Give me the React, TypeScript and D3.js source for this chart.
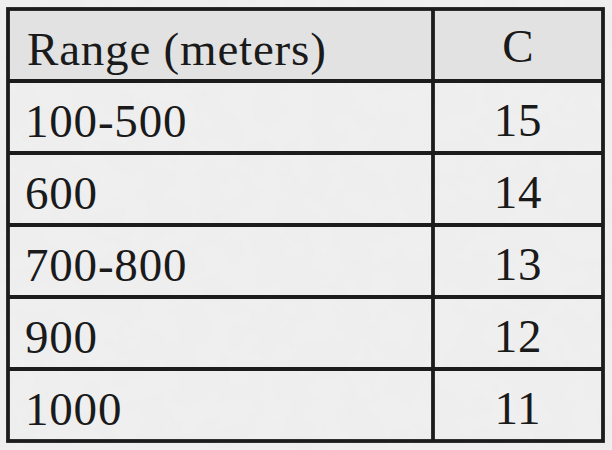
import React from "react";
import * as d3 from "d3";

const headers: string[] = ["Range (meters)", "C"];
const ranges: string[] = ["100-500", "600", "700-800", "900", "1000"];
const cValues: number[] = [15, 14, 13, 12, 11];

const W = 612;
const H = 450;
const left = 8;
const right = 603;
const top = 9;
const bottom = 441;
const colSplit = 433;

export default function App() {
  const rowKeys = ["header", ...ranges];
  const y = d3.scaleBand<string>().domain(rowKeys).range([top, bottom]).paddingInner(0).paddingOuter(0);
  const x = d3.scaleOrdinal<string, number>().domain(["range", "c"]).range([left, colSplit]);
  const colEnd = d3.scaleOrdinal<string, number>().domain(["range", "c"]).range([colSplit, right]);
  const bw = y.bandwidth();
  const font = "'Liberation Serif', serif";
  const fs = 47;
  const ls = 0.8;
  const stroke = "#1c1c1c";
  const sw = 3.8;

  return (
    <div style={{ position: "fixed", left: 0, top: 0, width: W, height: H, background: "#efefef" }}>
      <svg width={W} height={H} viewBox={`0 0 ${W} ${H}`}>
        <defs>
          <filter id="paper" x="0" y="0" width="100%" height="100%">
            <feTurbulence type="fractalNoise" baseFrequency="0.035" numOctaves="3" seed="4" result="n" />
            <feColorMatrix type="matrix" values="0 0 0 0 0.5  0 0 0 0 0.5  0 0 0 0 0.5  0 0 0 0.06 0" />
          </filter>
        </defs>
        <rect x={0} y={0} width={W} height={H} fill="#f0f0f0" />
        <rect x={0} y={0} width={W} height={H} filter="url(#paper)" />
        <rect x={left} y={y("header")!} width={right - left} height={bw} fill="#e2e2e2" />
        {rowKeys.slice(1).map((k) => (
          <line key={k} x1={left} x2={right} y1={y(k)!} y2={y(k)!} stroke={stroke} strokeWidth={sw} />
        ))}
        <line x1={colSplit} x2={colSplit} y1={top} y2={bottom} stroke={stroke} strokeWidth={sw} />
        <rect x={left} y={top} width={right - left} height={bottom - top} fill="none" stroke={stroke} strokeWidth={sw} />
        <text x={x("range") + 19} y={y("header")! + bw / 2 + 20} fontFamily={font} fontSize={fs} letterSpacing={ls} fill="#1a1a1a">
          {headers[0]}
        </text>
        <text
          x={(x("c") + colEnd("c")) / 2}
          y={y("header")! + bw / 2 + 17}
          fontFamily={font}
          fontSize={fs}
          fill="#1a1a1a"
          textAnchor="middle"
        >
          {headers[1]}
        </text>
        {ranges.map((r, i) => (
          <g key={r}>
            <text x={x("range") + 17} y={y(r)! + bw / 2 + 20} fontFamily={font} fontSize={fs} letterSpacing={ls} fill="#1a1a1a">
              {r}
            </text>
            <text
              x={(x("c") + colEnd("c")) / 2}
              y={y(r)! + bw / 2 + 19}
              fontFamily={font}
              fontSize={fs}
              letterSpacing={ls}
              fill="#1a1a1a"
              textAnchor="middle"
            >
              {cValues[i]}
            </text>
          </g>
        ))}
      </svg>
    </div>
  );
}
